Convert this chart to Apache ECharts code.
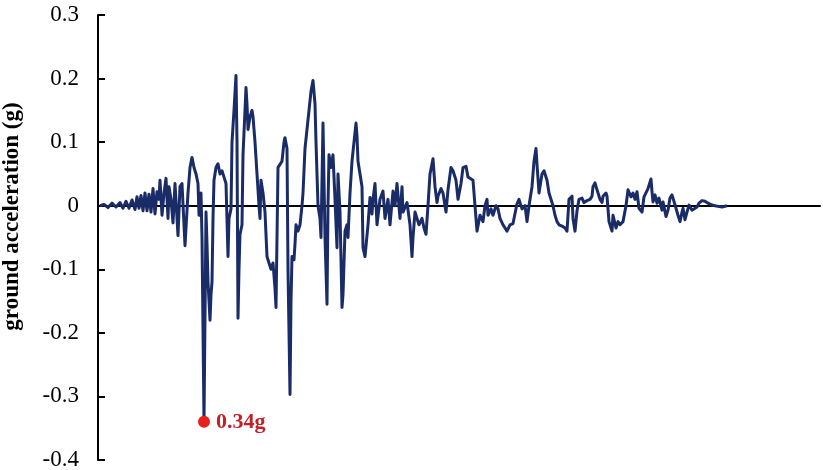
<!DOCTYPE html>
<html>
<head>
<meta charset="utf-8">
<script src="https://cdn.jsdelivr.net/npm/echarts@6/dist/echarts.min.js"></script>
<style>
html, body { margin: 0; padding: 0; background: #fff; }
#chart { width: 823px; height: 470px; }
</style>
</head>
<body>
<div id="chart"></div>
<script>
// time (s) and ground acceleration (g)
var timeS = [
  0.10, 0.30, 0.50, 0.70, 0.90, 1.10, 1.25, 1.40, 1.55, 1.70,
  1.85, 1.95, 2.05, 2.15, 2.25, 2.35, 2.45, 2.55, 2.65, 2.75,
  2.85, 2.95, 3.05, 3.10, 3.20, 3.30, 3.40, 3.50, 3.55, 3.65,
  3.75, 3.85, 4.00, 4.10, 4.20, 4.35, 4.50, 4.60, 4.70, 4.80,
  4.90, 5.00, 5.05, 5.15, 5.20, 5.30, 5.40, 5.45, 5.50, 5.60,
  5.65, 5.70, 5.75, 5.80, 5.90, 6.00, 6.10, 6.20, 6.30, 6.40,
  6.50, 6.55, 6.65, 6.70, 6.80, 6.90, 6.95, 7.00, 7.05, 7.10,
  7.20, 7.25, 7.35, 7.40, 7.45, 7.50, 7.60, 7.70, 7.75, 7.85,
  7.95, 8.05, 8.10, 8.15, 8.25, 8.35, 8.45, 8.55, 8.65, 8.75,
  8.85, 8.90, 8.95, 9.00, 9.10, 9.20, 9.30, 9.35, 9.45, 9.50,
  9.60, 9.65, 9.70, 9.80, 9.85, 9.90, 10.00, 10.10, 10.20, 10.25,
  10.35, 10.45, 10.55, 10.65, 10.75, 10.85, 10.90, 11.00, 11.10, 11.15,
  11.25, 11.35, 11.45, 11.50, 11.55, 11.65, 11.75, 11.85, 11.95, 12.00,
  12.10, 12.20, 12.25, 12.35, 12.45, 12.50, 12.60, 12.70, 12.80, 12.90,
  12.95, 13.00, 13.10, 13.20, 13.25, 13.35, 13.50, 13.60, 13.70, 13.75,
  13.85, 13.95, 14.10, 14.25, 14.35, 14.50, 14.60, 14.75, 14.85, 14.95,
  15.10, 15.20, 15.25, 15.45, 15.60, 15.70, 15.75, 15.85, 15.95, 16.05,
  16.20, 16.30, 16.40, 16.50, 16.60, 16.75, 16.85, 16.95, 17.00, 17.15,
  17.25, 17.40, 17.50, 17.65, 17.75, 17.90, 18.00, 18.15, 18.25, 18.40,
  18.50, 18.60, 18.75, 18.85, 18.95, 19.10, 19.25, 19.35, 19.45, 19.50,
  19.65, 19.75, 19.90, 20.00, 20.10, 20.25, 20.45, 20.60, 20.75, 20.95,
  21.05, 21.20, 21.35, 21.45, 21.55, 21.70, 21.80, 21.90, 21.95, 22.05,
  22.20, 22.30, 22.45, 22.55, 22.70, 22.75, 22.85, 22.95, 23.05, 23.20,
  23.35, 23.45, 23.55, 23.70, 23.75, 23.85, 23.95, 24.05, 24.20, 24.30,
  24.45, 24.60, 24.70, 24.75, 24.85, 24.95, 25.10, 25.20, 25.25, 25.40,
  25.45, 25.55, 25.70, 25.75, 25.90, 26.00, 26.10, 26.25, 26.40, 26.50,
  26.65, 26.75, 26.85, 26.95, 27.05, 27.20, 27.30, 27.40, 27.50, 27.65,
  27.70, 27.75, 27.85, 27.95, 28.05, 28.20, 28.25, 28.40, 28.50, 28.60,
  28.70, 28.75, 28.90, 29.00, 29.10, 29.20, 29.25, 29.35, 29.45, 29.55,
  29.70, 29.80, 29.95, 30.05, 30.20, 30.35, 30.50, 30.70, 30.85, 31.00,
  31.20, 31.45
];
var accelG = [
  0, 0.002, -0.003, 0.004, -0.002, 0.005, -0.004, 0.007, -0.004, 0.009,
  -0.006, 0.014, -0.004, 0.016, -0.008, 0.02, -0.008, 0.018, -0.01, 0.027,
  -0.013, 0.022, 0.01, 0.04, -0.015, 0.02, 0.043, -0.02, 0.03, 0.01,
  -0.027, 0.035, -0.047, 0.03, 0.035, -0.063, 0.02, 0.06, 0.076, 0.06,
  0.05, 0.035, -0.015, 0.02, -0.05, -0.34, -0.01, -0.06, -0.12, -0.18,
  -0.14, -0.12, -0.02, 0.04, 0.06, 0.066, 0.05, 0.055, 0.045, 0.035,
  -0.08, -0.02, -0.005, 0.1, 0.15, 0.205, 0.1, -0.177, -0.1, -0.045,
  -0.03, 0.08, 0.15, 0.186, 0.16, 0.12, 0.14, 0.15, 0.14, 0.1,
  0.05, 0.0, -0.02, 0.04, 0.02, -0.01, -0.08, -0.09, -0.1, -0.09,
  -0.13, -0.16, -0.05, 0.06, 0.065, 0.07, 0.1, 0.107, 0.09, -0.1,
  -0.297, -0.15, -0.08, -0.085, -0.06, -0.03, -0.04, -0.03, 0.0, 0.02,
  0.09, 0.12, 0.15, 0.18, 0.197, 0.16, 0.1, 0.0, -0.02, -0.05,
  0.13, -0.05, -0.155, 0.0, 0.08, 0.06, 0.08, 0.01, -0.066, 0.05,
  -0.01, -0.16, -0.14, -0.04, -0.03, -0.05, 0.02, 0.07, 0.1, 0.13,
  0.11, 0.07, 0.05, 0.03, -0.066, -0.08, -0.03, 0.013, -0.013, 0.01,
  0.035, -0.03, 0.01, 0.023, -0.02, 0.01, -0.03, 0.023, 0.0, 0.035,
  -0.02, 0.03, -0.01, 0.005, -0.03, -0.08, -0.05, -0.01, -0.02, -0.03,
  -0.02, -0.035, -0.045, 0.0, 0.05, 0.074, 0.03, 0.005, 0.015, 0.027,
  0.02, -0.01, 0.025, 0.06, 0.055, 0.04, 0.01, 0.035, 0.06, 0.062,
  0.045, 0.048, 0.04, 0.0, -0.04, -0.015, -0.025, 0.0, 0.01, -0.015,
  -0.005, -0.015, 0.0, -0.005, -0.02, -0.03, -0.04, -0.03, -0.028, 0.003,
  0.01, -0.005, 0.0, -0.025, 0.0, 0.03, 0.07, 0.09, 0.065, 0.02,
  0.05, 0.055, 0.04, 0.02, 0.005, 0.0, -0.015, -0.025, -0.03, -0.032,
  -0.035, -0.04, 0.01, 0.015, -0.02, -0.04, -0.008, 0.01, 0.012, 0.005,
  0.008, 0.01, 0.015, 0.03, 0.036, 0.025, 0.01, 0.005, 0.015, 0.02,
  0.015, -0.025, -0.04, -0.015, -0.035, -0.025, -0.03, -0.025, 0.0, 0.025,
  0.014, 0.02, 0.01, 0.022, -0.004, -0.01, 0.014, 0.012, 0.027, 0.042,
  0.022, 0.006, 0.017, 0.004, 0.012, -0.007, 0.006, -0.017, -0.007, 0.012,
  0.017, 0.012, -0.004, -0.015, -0.025, -0.01, -0.004, -0.022, -0.01, 0.001,
  -0.007, -0.01, -0.002, 0.004, 0.008, 0.007, 0.004, 0.001, 0.0, -0.001,
  -0.002, 0.0
];
var yTicks = [-0.4, -0.3, -0.2, -0.1, 0, 0.1, 0.2, 0.3];
var peakLabel = '0.34g';

var serif = '"Liberation Serif", "Times New Roman", serif';

var record = timeS.map(function (t, i) { return [t, accelG[i]]; });
var peakIdx = 0;
for (var i = 1; i < accelG.length; i++) {
  if (accelG[i] < accelG[peakIdx]) peakIdx = i;
}

var myChart = echarts.init(document.getElementById('chart'));
myChart.setOption({
  animation: false,
  backgroundColor: '#fff',
  grid: {
    left: 98,
    right: 3,
    top: 15,
    bottom: 10,
    containLabel: false,
    outerBoundsMode: 'none'
  },
  xAxis: {
    type: 'value',
    min: 0,
    max: 36.1,
    axisLine: { onZero: true, lineStyle: { color: '#000', width: 2 } },
    axisTick: { show: false },
    axisLabel: { show: false },
    splitLine: { show: false }
  },
  yAxis: {
    type: 'value',
    min: yTicks[0],
    max: yTicks[yTicks.length - 1],
    interval: 0.1,
    name: 'ground acceleration (g)',
    nameLocation: 'middle',
    nameGap: 74,
    nameRotate: 90,
    nameTextStyle: {
      fontFamily: serif,
      fontWeight: 'bold',
      fontSize: 23,
      color: '#000',
      padding: [0, 0, 0, 42]
    },
    axisLine: { show: true, lineStyle: { color: '#000', width: 2 } },
    axisTick: { show: true, inside: true, length: 7, lineStyle: { color: '#000', width: 2 } },
    axisLabel: {
      margin: 19,
      fontFamily: serif,
      fontSize: 23,
      color: '#000',
      formatter: function (v) {
        return Math.abs(v) < 1e-9 ? '0' : v.toFixed(1);
      }
    },
    splitLine: { show: false }
  },
  series: [
    {
      name: 'ground acceleration',
      type: 'line',
      data: record,
      showSymbol: false,
      symbol: 'none',
      lineStyle: { color: '#1a2c68', width: 3, join: 'round' },
      z: 3
    },
    {
      name: 'peak',
      type: 'scatter',
      data: [[timeS[peakIdx], accelG[peakIdx]]],
      symbolSize: 12,
      itemStyle: { color: '#e8201a', opacity: 1 },
      label: {
        show: true,
        position: 'right',
        distance: 6,
        formatter: peakLabel,
        fontFamily: serif,
        fontWeight: 'bold',
        fontSize: 22,
        color: '#c4202a'
      },
      z: 5
    }
  ]
});
</script>
</body>
</html>
